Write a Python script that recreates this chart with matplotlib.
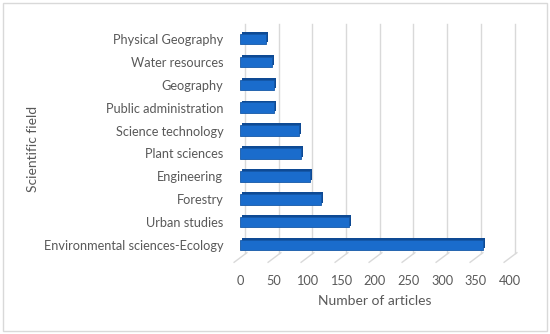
import matplotlib
matplotlib.use('Agg')
import matplotlib.pyplot as plt
import matplotlib.transforms as mtransforms
from matplotlib.path import Path
from matplotlib.patches import Rectangle

fields = ['Environmental sciences-Ecology', 'Urban studies', 'Forestry', 'Engineering',
          'Plant sciences', 'Science technology', 'Public administration', 'Geography',
          'Water resources', 'Physical Geography']
articles = [360, 162, 120, 104, 90, 87, 51, 50, 48, 39]
xticks = [0, 50, 100, 150, 200, 250, 300, 350, 400]

plt.rcParams['font.family'] = ['Lato', 'DejaVu Sans']
text_col = '#595959'

fig = plt.figure(figsize=(5.5, 3.34), dpi=100)
ax = fig.add_axes([0.4364, 0.232, 0.49, 0.6856])

# back plane gridlines, shifted up/right to fake the 3D depth
back = ax.get_xaxis_transform() + mtransforms.ScaledTranslation(5/100, 4/100, fig.dpi_scale_trans)
for t in xticks:
    ax.plot([t, t], [0, 1], color='#d9d9d9', lw=1, transform=back, zorder=0, clip_on=False)

# floor diagonals at each tick
diag = Path([(-1, -0.75), (1, 0.75)], [Path.MOVETO, Path.LINETO])
ax.plot(xticks, [0]*len(xticks), ls='none', marker=diag, markersize=10, mew=1,
        color='#d9d9d9', transform=ax.get_xaxis_transform(), clip_on=False, zorder=0)

ypos = list(range(len(fields)))
# depth of bar (top + side face)
ax.barh([y + 0.08 for y in ypos], articles, left=3, height=0.46, color='#0e4a94', zorder=2)
ax.barh(ypos, articles, height=0.46, color='#1a6ccc', edgecolor='#1558a8', lw=0.6, zorder=3)

ax.set_xlim(0, 400)
ax.set_ylim(-0.5, len(fields) - 0.5)
ax.set_xticks(xticks)
ax.set_yticks(ypos)
ax.set_yticklabels(fields)
for s in ax.spines.values():
    s.set_visible(False)
ax.tick_params(axis='both', length=0, labelsize=9.2, labelcolor=text_col)
ax.tick_params(axis='x', pad=13)
ax.tick_params(axis='y', pad=12)
ax.set_xlabel('Number of articles', fontsize=10, color=text_col, labelpad=6)
fig.text(33/550, 1 - 149/334, 'Scientific field', rotation=90, ha='center', va='center',
         fontsize=10, color=text_col)

fig.patches.append(Rectangle((3/550, 3/334), 544/550, 328/334, transform=fig.transFigure,
                             fill=False, edgecolor='#d9d9d9', lw=1))

fig.savefig('out.png', dpi=100)
